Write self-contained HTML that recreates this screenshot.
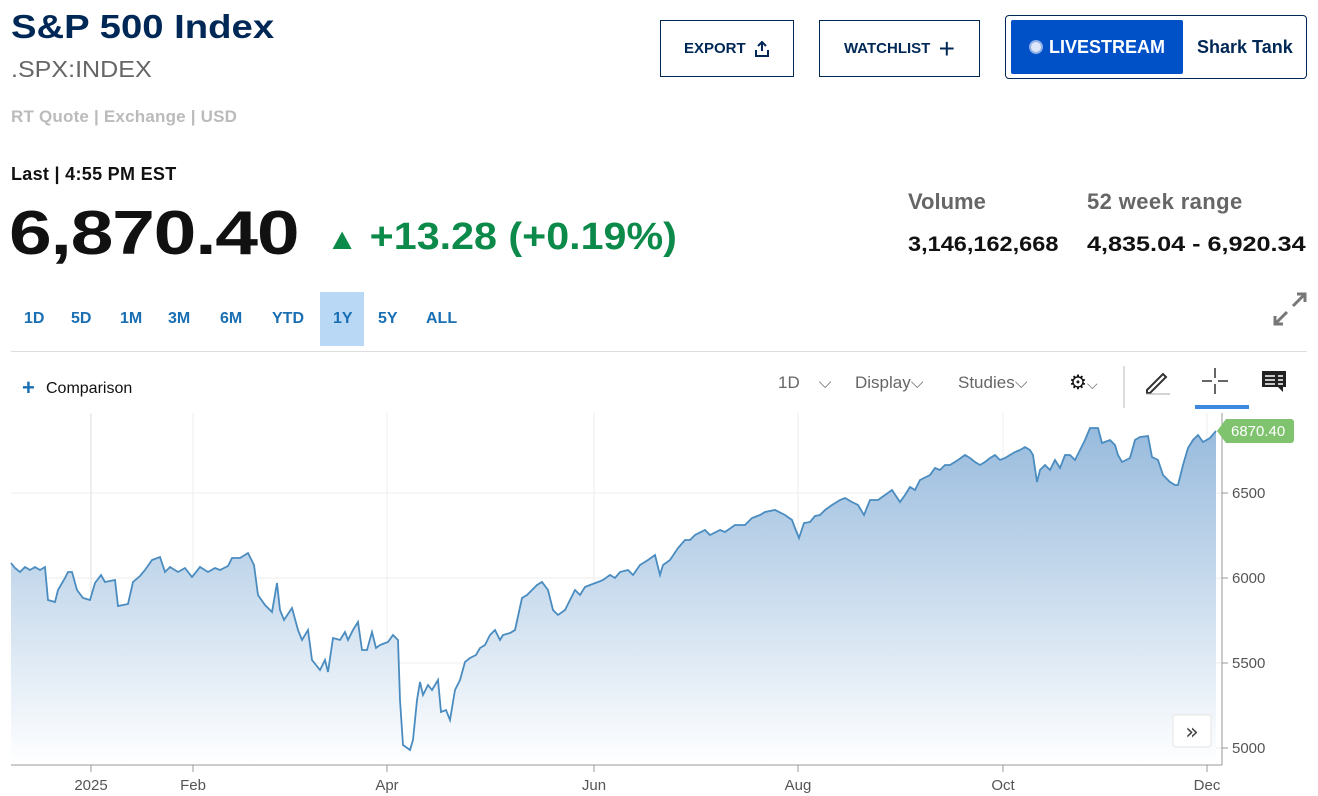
<!DOCTYPE html>
<html><head><meta charset="utf-8"><style>
*{margin:0;padding:0;box-sizing:border-box}
body{width:1318px;height:796px;background:#fff;font-family:"Liberation Sans",sans-serif;position:relative;overflow:hidden}
.a{position:absolute;white-space:nowrap}
.s{transform-origin:0 0}
.btn{position:absolute;border:1px solid #002856;color:#002856;font-weight:bold;font-size:15px;display:flex;align-items:center;justify-content:center}
.rng{position:absolute;top:310px;font-size:16px;color:#1a6fb3;font-weight:bold}
.tb{position:absolute;top:373px;font-size:17px;color:#666}
</style></head><body>
<div class="a s" style="left:11px;top:8px;font-size:33px;font-weight:bold;color:#002856;transform:scaleX(1.16)">S&amp;P 500 Index</div>
<div class="a s" style="left:11px;top:56px;font-size:23px;color:#666;transform:scaleX(1.09)">.SPX:INDEX</div>
<div class="a" style="left:11px;top:107px;font-size:17px;color:#bbb;font-weight:bold;letter-spacing:0.2px">RT Quote | Exchange | USD</div>
<div class="a" style="left:11px;top:164px;font-size:18px;font-weight:bold;color:#111;letter-spacing:0.3px">Last | 4:55 PM EST</div>
<div class="a s" style="left:9px;top:198px;font-size:62px;font-weight:bold;color:#111;letter-spacing:-1px;transform:scaleX(1.24)">6,870.40</div>
<div class="a s" style="left:326px;top:216px;font-size:38px;font-weight:bold;color:#0b8a4a;transform:scaleX(1.085)"><span style="font-size:30px">▲</span> +13.28 (+0.19%)</div>
<div class="btn" style="left:660px;top:20px;width:134px;height:57px">EXPORT&nbsp;&nbsp;<svg width="16" height="16" viewBox="0 0 16 16"><path d="M8 1v9M4 5l4-4 4 4M2 9v6h12V9" fill="none" stroke="#002856" stroke-width="2"/></svg></div>
<div class="btn" style="left:819px;top:20px;width:161px;height:57px">WATCHLIST&nbsp;&nbsp;<span style="font-size:28px;font-weight:normal">+</span></div>
<div class="a" style="left:1005px;top:15px;width:302px;height:64px;border:1px solid #002856;border-radius:4px"></div>
<div class="a" style="left:1011px;top:20px;width:172px;height:54px;background:#0050c8;border-radius:2px;color:#fff;font-weight:bold;font-size:18px;display:flex;align-items:center;justify-content:center"><span style="display:inline-block;width:14px;height:14px;border-radius:50%;background:#dde6f8;border:2px solid #8fb0e8;margin-right:6px"></span>LIVESTREAM</div>
<div class="a" style="left:1197px;top:37px;font-size:18px;font-weight:bold;color:#002856">Shark Tank</div>
<div class="a" style="left:908px;top:189px;font-size:22px;font-weight:bold;color:#666">Volume</div>
<div class="a" style="left:1087px;top:189px;font-size:22px;font-weight:bold;color:#666;letter-spacing:0.4px">52 week range</div>
<div class="a s" style="left:908px;top:233px;font-size:21px;font-weight:bold;color:#111;transform:scaleX(1.12)">3,146,162,668</div>
<div class="a s" style="left:1087px;top:233px;font-size:21px;font-weight:bold;color:#111;transform:scaleX(1.2)">4,835.04 - 6,920.34</div>
<div class="a" style="left:320px;top:292px;width:44px;height:54px;background:#b8d8f6"></div>
<div class="rng" style="left:24px">1D</div><div class="rng" style="left:71px">5D</div><div class="rng" style="left:120px">1M</div><div class="rng" style="left:168px">3M</div><div class="rng" style="left:220px">6M</div><div class="rng" style="left:272px">YTD</div><div class="rng" style="left:333px">1Y</div><div class="rng" style="left:378px">5Y</div><div class="rng" style="left:426px">ALL</div>
<svg class="a" style="left:1273px;top:292px" width="34" height="34" viewBox="0 0 34 34"><path d="M20 14L32 2M24 2h8v8M14 20L2 32M2 24v8h8" fill="none" stroke="#777" stroke-width="3"/></svg>
<div class="a" style="left:11px;top:351px;width:1296px;height:1px;background:#ddd"></div>
<div class="a" style="left:22px;top:375px;font-size:22px;color:#1a6fb3;font-weight:bold">+</div>
<div class="a" style="left:46px;top:380px;font-size:16px;color:#111">Comparison</div>
<div class="tb" style="left:778px">1D&nbsp;&nbsp;&nbsp;&nbsp;⌵</div>
<div class="tb" style="left:855px">Display⌵</div>
<div class="tb" style="left:958px">Studies⌵</div>
<div class="tb" style="left:1069px;color:#111;font-size:20px;top:370px">⚙<span style="font-size:14px;color:#666">⌵</span></div>
<div class="a" style="left:1123px;top:366px;width:2px;height:42px;background:#ddd"></div>
<svg class="a" style="left:1143px;top:368px" width="28" height="28" viewBox="0 0 28 28"><path d="M4 22L20 6l3 3L7 25H4z" fill="none" stroke="#333" stroke-width="2"/><path d="M3 26h24" stroke="#aaa"/></svg>
<svg class="a" style="left:1202px;top:368px" width="26" height="26"><path d="M13 0v10M13 16v10M0 13h10M16 13h10" stroke="#333" stroke-width="1.5"/></svg>
<div class="a" style="left:1195px;top:405px;width:54px;height:4px;background:#3d88e0"></div>
<svg class="a" style="left:1261px;top:370px" width="26" height="24"><path d="M1 1h24v16h-3v5l-5-5H1z" fill="#222"/><path d="M4 6h10M4 10h10M4 14h10M17 6h5M17 10h5M17 14h5" stroke="#fff" stroke-width="1.5"/></svg>
<svg class="a" style="left:0;top:400px" width="1318" height="396">
<defs><linearGradient id="g" x1="0" y1="0" x2="0" y2="1"><stop offset="0" stop-color="#98bbdd"/><stop offset="1" stop-color="#ffffff"/></linearGradient></defs>
<g stroke="#eee" stroke-width="1"><line x1="11" x2="1222" y1="93" y2="93"/><line x1="11" x2="1222" y1="178" y2="178"/><line x1="11" x2="1222" y1="263" y2="263"/><line x1="11" x2="1222" y1="348" y2="348"/>
<line x1="91" x2="91" y1="13" y2="365" stroke="#ddd"/><line x1="193" x2="193" y1="13" y2="365"/><line x1="387" x2="387" y1="13" y2="365"/><line x1="594" x2="594" y1="13" y2="365"/><line x1="798" x2="798" y1="13" y2="365"/><line x1="1003" x2="1003" y1="13" y2="365"/><line x1="1207" x2="1207" y1="13" y2="365"/></g>
<path fill="url(#g)" d="M11,163 L15,168 20,172 25,167 30,170 35,167 40,170 45,167 48,200 55,202 58,190 65,178 68,172 72,172 77,190 83,198 90,200 95,183 101,175 105,182 115,180 118,206 128,204 133,182 140,176 145,170 152,160 160,157 165,172 170,167 178,172 185,168 192,177 200,167 208,172 215,168 220,170 228,166 232,158 240,158 248,153 254,165 258,195 265,205 272,212 277,183 280,210 284,220 292,208 298,230 302,240 308,230 312,260 320,270 325,260 328,272 333,238 340,240 345,232 348,240 353,230 358,222 362,250 367,250 372,232 376,248 380,245 388,242 393,235 398,240 400,300 403,345 410,350 413,340 417,300 420,282 423,295 428,285 432,290 438,280 441,312 446,310 450,320 455,290 460,280 465,262 470,258 476,255 480,248 485,245 490,235 495,230 500,240 503,235 510,233 515,230 522,198 527,195 532,190 537,185 542,182 548,190 553,210 558,215 565,210 570,200 575,190 580,195 585,187 590,185 598,182 603,180 610,175 615,178 620,172 628,170 633,175 640,165 648,160 655,155 660,175 663,165 670,160 678,148 685,140 690,140 695,135 705,130 710,135 720,130 725,132 735,125 745,125 752,118 760,115 765,112 775,110 785,115 792,120 795,128 799,138 804,123 810,122 815,116 820,115 825,110 832,105 840,100 845,98 852,102 858,105 864,115 870,100 878,100 885,95 892,90 900,102 905,95 910,87 915,90 920,80 930,75 935,68 940,70 945,65 950,65 958,60 965,55 970,58 975,62 980,65 985,62 990,58 995,55 1000,60 1005,58 1010,55 1015,52 1020,50 1025,47 1030,50 1033,55 1037,82 1040,70 1045,65 1050,70 1055,60 1060,68 1065,55 1070,55 1075,60 1080,50 1085,40 1090,28 1098,28 1102,43 1110,40 1115,45 1118,55 1122,62 1130,58 1135,40 1140,37 1148,36 1152,57 1158,60 1163,75 1170,82 1175,85 1178,85 1183,65 1188,48 1193,40 1198,35 1203,42 1210,38 1216,31 L1216,365 L11,365 Z"/>
<path fill="none" stroke="#4a8cc0" stroke-width="1.8" d="M11,163 L15,168 20,172 25,167 30,170 35,167 40,170 45,167 48,200 55,202 58,190 65,178 68,172 72,172 77,190 83,198 90,200 95,183 101,175 105,182 115,180 118,206 128,204 133,182 140,176 145,170 152,160 160,157 165,172 170,167 178,172 185,168 192,177 200,167 208,172 215,168 220,170 228,166 232,158 240,158 248,153 254,165 258,195 265,205 272,212 277,183 280,210 284,220 292,208 298,230 302,240 308,230 312,260 320,270 325,260 328,272 333,238 340,240 345,232 348,240 353,230 358,222 362,250 367,250 372,232 376,248 380,245 388,242 393,235 398,240 400,300 403,345 410,350 413,340 417,300 420,282 423,295 428,285 432,290 438,280 441,312 446,310 450,320 455,290 460,280 465,262 470,258 476,255 480,248 485,245 490,235 495,230 500,240 503,235 510,233 515,230 522,198 527,195 532,190 537,185 542,182 548,190 553,210 558,215 565,210 570,200 575,190 580,195 585,187 590,185 598,182 603,180 610,175 615,178 620,172 628,170 633,175 640,165 648,160 655,155 660,175 663,165 670,160 678,148 685,140 690,140 695,135 705,130 710,135 720,130 725,132 735,125 745,125 752,118 760,115 765,112 775,110 785,115 792,120 795,128 799,138 804,123 810,122 815,116 820,115 825,110 832,105 840,100 845,98 852,102 858,105 864,115 870,100 878,100 885,95 892,90 900,102 905,95 910,87 915,90 920,80 930,75 935,68 940,70 945,65 950,65 958,60 965,55 970,58 975,62 980,65 985,62 990,58 995,55 1000,60 1005,58 1010,55 1015,52 1020,50 1025,47 1030,50 1033,55 1037,82 1040,70 1045,65 1050,70 1055,60 1060,68 1065,55 1070,55 1075,60 1080,50 1085,40 1090,28 1098,28 1102,43 1110,40 1115,45 1118,55 1122,62 1130,58 1135,40 1140,37 1148,36 1152,57 1158,60 1163,75 1170,82 1175,85 1178,85 1183,65 1188,48 1193,40 1198,35 1203,42 1210,38 1216,31"/>
<line x1="11" x2="1222" y1="365" y2="365" stroke="#999"/>
<line x1="1222" x2="1222" y1="13" y2="365" stroke="#999"/>
<g stroke="#999"><line x1="91" x2="91" y1="365" y2="372"/><line x1="193" x2="193" y1="365" y2="372"/><line x1="387" x2="387" y1="365" y2="372"/><line x1="594" x2="594" y1="365" y2="372"/><line x1="798" x2="798" y1="365" y2="372"/><line x1="1003" x2="1003" y1="365" y2="372"/><line x1="1207" x2="1207" y1="365" y2="372"/>
<line x1="1222" x2="1228" y1="93" y2="93"/><line x1="1222" x2="1228" y1="178" y2="178"/><line x1="1222" x2="1228" y1="263" y2="263"/><line x1="1222" x2="1228" y1="348" y2="348"/></g>
<g font-family="Liberation Sans" font-size="15" fill="#555" text-anchor="middle"><text x="91" y="390">2025</text><text x="193" y="390">Feb</text><text x="387" y="390">Apr</text><text x="594" y="390">Jun</text><text x="798" y="390">Aug</text><text x="1003" y="390">Oct</text><text x="1207" y="390">Dec</text></g>
<g font-family="Liberation Sans" font-size="15" fill="#555"><text x="1232" y="98">6500</text><text x="1232" y="183">6000</text><text x="1232" y="268">5500</text><text x="1232" y="353">5000</text></g>
<path d="M1217,31 L1226,19 H1291 a3,3 0 0 1 3,3 V40 a3,3 0 0 1 -3,3 H1226 Z" fill="#7fc36e"/>
<text x="1231" y="36" font-family="Liberation Sans" font-size="15" fill="#fff">6870.40</text>
<rect x="1173" y="315" width="38" height="32" rx="3" fill="#fff" stroke="#e4e4e4"/>
<text x="1192" y="339" text-anchor="middle" font-family="DejaVu Sans" font-size="22" fill="#444">»</text>
</svg>
</body></html>
